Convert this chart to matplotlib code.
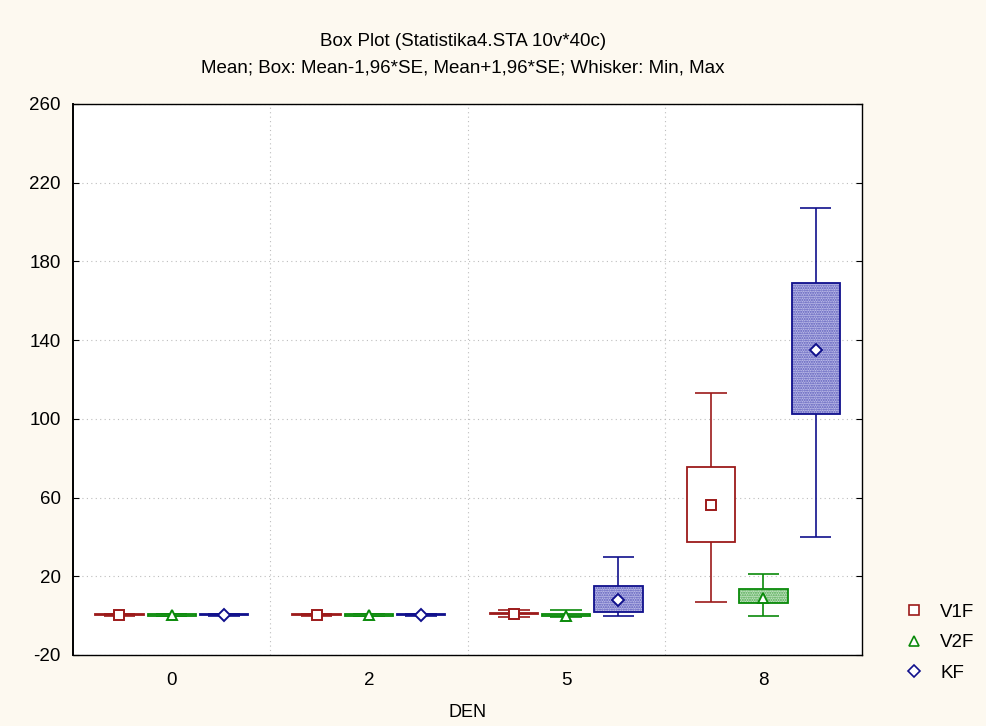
import matplotlib.pyplot as plt
from matplotlib.lines import Line2D
import numpy as np

plt.rcParams['font.family'] = ['Liberation Sans', 'DejaVu Sans']
plt.rcParams['axes.unicode_minus'] = False

den = ['0', '2', '5', '8']
series = ['V1F', 'V2F', 'KF']

# mean, box (mean -/+ 1.96*SE), whiskers (min, max)
v1f_mean = [0.4, 0.4, 1.0, 56.2]
v1f_lo = [0.1, 0.1, 0.6, 37.4]
v1f_hi = [0.8, 0.8, 1.4, 75.5]
v1f_min = [0.0, 0.0, -0.5, 6.9]
v1f_max = [1.0, 1.0, 2.9, 113.1]

v2f_mean = [0.2, 0.2, 0.0, 9.0]
v2f_lo = [0.0, 0.0, 0.0, 6.4]
v2f_hi = [0.6, 0.6, 0.6, 13.5]
v2f_min = [0.0, 0.0, -0.6, -0.2]
v2f_max = [0.8, 0.8, 2.9, 21.2]

kf_mean = [0.3, 0.3, 7.8, 135.0]
kf_lo = [0.1, 0.1, 1.7, 102.5]
kf_hi = [0.7, 0.7, 15.0, 169.0]
kf_min = [0.0, 0.0, -0.4, 40.0]
kf_max = [0.9, 0.9, 30.0, 207.0]

data = {
    'V1F': (v1f_mean, v1f_lo, v1f_hi, v1f_min, v1f_max),
    'V2F': (v2f_mean, v2f_lo, v2f_hi, v2f_min, v2f_max),
    'KF': (kf_mean, kf_lo, kf_hi, kf_min, kf_max),
}

# edge colour, fill, hatch colour, marker
style = {
    'V1F': ('#9c1a1a', 'white', None, 's'),
    'V2F': ('#0a8a0a', '#c4e4c4', '#4aa64a', '^'),
    'KF': ('#10108c', '#bcbce8', '#5555b8', 'D'),
}
msize = {'V1F': 7, 'V2F': 7, 'KF': 6}

fig = plt.figure(figsize=(9.87, 7.26), dpi=100)
fig.patch.set_facecolor('#fdf9f0')
ax = fig.add_axes([0.074, 0.0978, 0.7994, 0.759])
ax.set_facecolor('white')

x = np.arange(len(den))
offs = [-0.265, 0.0, 0.265]
box_w = 0.245
cap_w = 0.16

for off, name in zip(offs, series):
    mean, lo, hi, mn, mx = [np.array(a) for a in data[name]]
    ec, fc, hc, mk = style[name]
    xs = x + off
    ax.vlines(xs, mn, lo, color=ec, lw=1.2, zorder=2)
    ax.vlines(xs, hi, mx, color=ec, lw=1.2, zorder=2)
    ax.hlines(mn, xs - cap_w / 2, xs + cap_w / 2, color=ec, lw=1.2, zorder=2)
    ax.hlines(mx, xs - cap_w / 2, xs + cap_w / 2, color=ec, lw=1.2, zorder=2)
    if hc:
        ax.bar(xs, hi - lo, bottom=lo, width=box_w, color=fc, edgecolor=hc,
               hatch='.......', linewidth=0, zorder=3)
    else:
        ax.bar(xs, hi - lo, bottom=lo, width=box_w, color=fc, linewidth=0, zorder=3)
    ax.bar(xs, hi - lo, bottom=lo, width=box_w, fill=False, edgecolor=ec,
           linewidth=1.3, zorder=4)
    ax.plot(xs, mean, ls='none', marker=mk, ms=msize[name], mfc='white',
            mec=ec, mew=1.4, zorder=5)

ax.set_xlim(-0.5, len(den) - 0.5)
ax.set_ylim(-20, 260)
ax.set_yticks(np.arange(-20, 261, 40))
ax.set_xticks(x)
ax.set_xticklabels(den)
ax.set_xticks(x[:-1] + 0.5, minor=True)
ax.tick_params(axis='x', which='major', length=0, pad=12, labelsize=13.5)
ax.tick_params(axis='x', which='minor', length=0)
ax.tick_params(axis='y', direction='in', length=4, left=True, right=True,
               labelsize=13.5, pad=9)
ax.grid(True, axis='y', which='major', color='#bdbdbd', ls=(0, (1, 3)), lw=0.8)
ax.grid(True, axis='x', which='minor', color='#bdbdbd', ls=(0, (1, 3)), lw=0.8)
ax.grid(False, axis='x', which='major')
for sp in ax.spines.values():
    sp.set_color('black')
    sp.set_linewidth(1.0)
ax.spines['left'].set_linewidth(1.4)

ax.set_xlabel('DEN', fontsize=13, labelpad=11)
fig.text(0.469, 0.943, 'Box Plot (Statistika4.STA 10v*40c)', ha='center',
         va='center', fontsize=13.5)
fig.text(0.469, 0.907, 'Mean; Box: Mean-1,96*SE, Mean+1,96*SE; Whisker: Min, Max',
         ha='center', va='center', fontsize=13.5)

handles = [Line2D([], [], ls='none', marker=style[n][3], ms=msize[n],
                  mfc='white', mec=style[n][0], mew=1.2) for n in series]
fig.legend(handles, series, loc='lower left', bbox_to_anchor=(0.89, 0.038),
           frameon=False, fontsize=13.5, handletextpad=0.4, labelspacing=0.7)

plt.savefig('out.png', dpi=100, facecolor=fig.get_facecolor())
